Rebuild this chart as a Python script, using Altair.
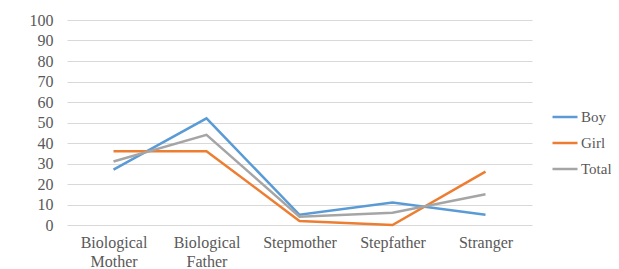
import altair as alt
import pandas as pd

categories = ["Biological Mother", "Biological Father", "Stepmother", "Stepfather", "Stranger"]
boy = [27, 52, 5, 11, 5]
girl = [36, 36, 2, 0, 26]
total = [31, 44, 4, 6, 15]
series = ["Boy", "Girl", "Total"]
colors = ["#5b9bd5", "#ed7d31", "#a5a5a5"]

rows = []
for name, vals in zip(series, [boy, girl, total]):
    for c, v in zip(categories, vals):
        rows.append({"category": c, "series": name, "value": v})
df = pd.DataFrame(rows)

font = "Liberation Serif"
fs = 16
chart = alt.Chart(df).mark_line(strokeWidth=2.5).encode(
    x=alt.X("category:N", sort=categories,
            scale=alt.Scale(type="point", padding=0.5),
            axis=alt.Axis(title=None, labelAngle=0, domain=False, ticks=False, grid=False,
                          labelFont=font, labelFontSize=fs, labelColor="#595959",
                          labelPadding=9, labelLineHeight=19,
                          labelExpr="split(datum.label, ' ')")),
    y=alt.Y("value:Q", scale=alt.Scale(domain=[0, 100]),
            axis=alt.Axis(title=None, values=list(range(0, 101, 10)), domain=False, ticks=False,
                          gridColor="#d9d9d9", gridWidth=1,
                          labelFont=font, labelFontSize=fs, labelColor="#595959",
                          labelPadding=14)),
    color=alt.Color("series:N", sort=series,
                    scale=alt.Scale(domain=series, range=colors),
                    legend=alt.Legend(title=None, orient="none", legendX=484, legendY=83,
                                      symbolType="stroke", symbolSize=625, symbolStrokeWidth=2.5,
                                      labelFont=font, labelFontSize=15, labelColor="#595959",
                                      labelOffset=2, rowPadding=4)),
).properties(
    width=465, height=205,
    autosize=alt.AutoSizeParams(type="none"),
    padding={"left": 59, "top": 12, "right": 79, "bottom": 44},
).configure_view(stroke=None)

chart.save("out.html", embed_options={"renderer": "svg", "actions": False})
